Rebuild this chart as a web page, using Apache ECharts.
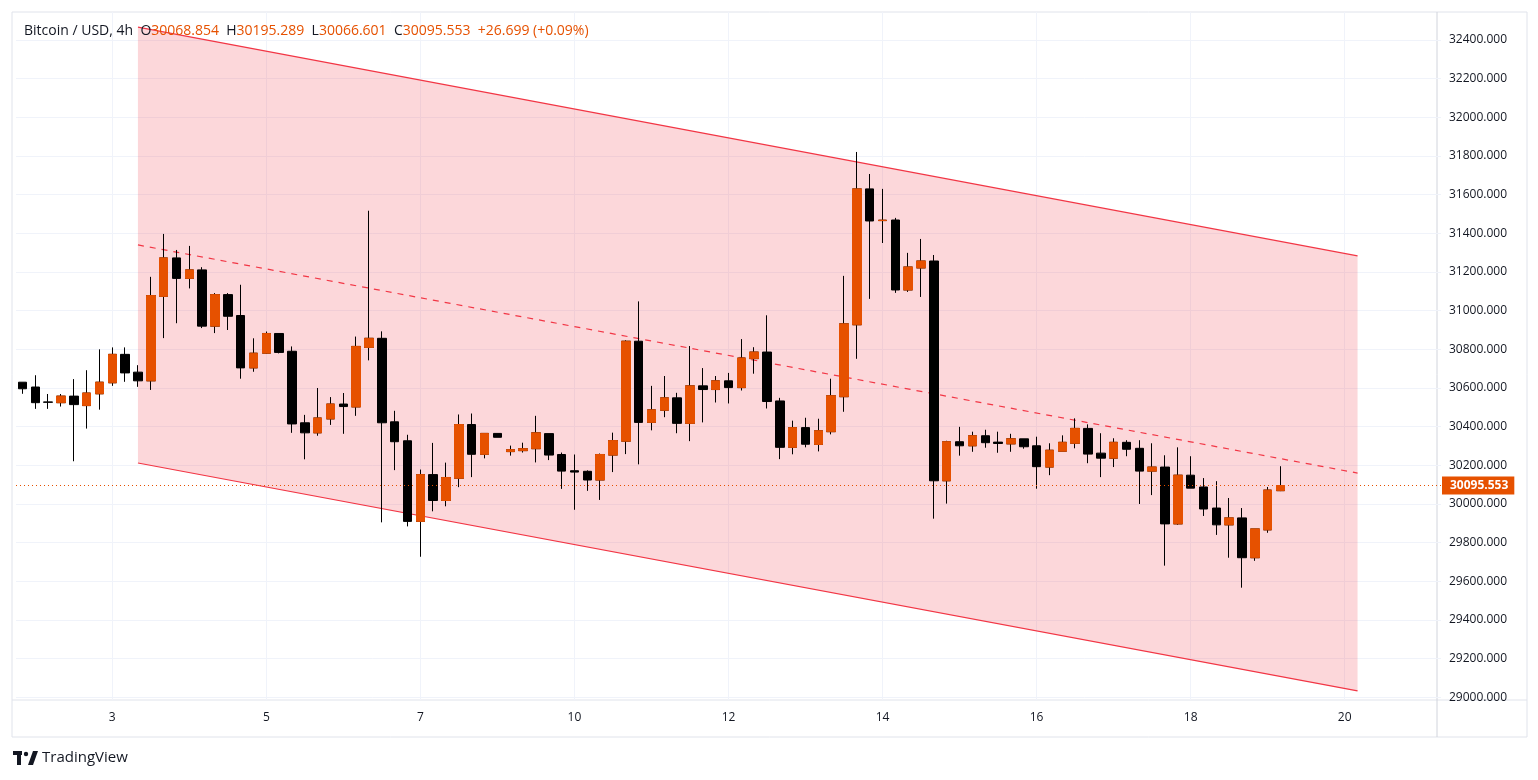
<!DOCTYPE html>
<html>
<head>
<meta charset="utf-8">
<script src="https://cdn.jsdelivr.net/npm/echarts@6/dist/echarts.min.js"></script>
<style>
  html, body { margin: 0; padding: 0; background: #fff; }
  #chart { width: 1538px; height: 780px; }
</style>
</head>
<body>
<div id="chart"></div>
<script>
// 4h candles
var opens  = [30630,30605,30528,30524,30558,30509,30570,30627,30774,30682,30637,31074,31273,31167,31211,30920,31083,30975,30704,30780,
              30882,30790,30420,30368,30440,30517,30502,30810,30857,30425,30327,29910,30152,30018,30133,30411,30257,30365,30271,30276,
              30286,30364,30256,30172,30169,30124,30253,30325,30842,30422,30485,30549,30417,30611,30592,30637,30602,30752,30786,30533,
              30293,30395,30308,30374,30555,30927,31630,31466,31469,31107,31221,31257,30120,30322,30301,30353,30320,30311,30337,30301,
              30191,30273,30314,30391,30263,30237,30319,30288,30170,30191,29897,30149,30088,29979,29892,29928,29722,29866,30068.854];
var closes = [30596,30524,30526,30558,30514,30574,30630,30774,30678,30637,31078,31273,31167,31211,30920,31083,30971,30704,30780,30882,
              30784,30414,30368,30445,30517,30504,30815,30857,30420,30322,29910,30152,30018,30137,30411,30257,30365,30345,30281,30286,
              30368,30253,30170,30165,30124,30256,30328,30842,30422,30487,30549,30417,30611,30592,30637,30602,30755,30786,30530,30293,
              30395,30309,30379,30560,30932,31630,31464,31468,31107,31226,31257,30120,30322,30301,30353,30317,30313,30337,30296,30193,
              30278,30319,30391,30258,30237,30319,30283,30170,30191,29897,30149,30082,29974,29892,29928,29722,29871,30072,30095.553];
var lows   = [30570,30492,30492,30504,30221,30390,30488,30611,30632,30606,30590,30858,30935,31115,30910,30884,30900,30648,30684,30776,
              30779,30368,30231,30353,30409,30363,30456,30743,29905,30175,29884,29727,29962,29988,30087,30139,30236,30345,30250,30266,
              30215,30227,30078,29970,30068,30021,30165,30258,30205,30381,30449,30366,30325,30422,30525,30520,30587,30674,30494,30232,
              30257,30293,30272,30360,30477,30751,31061,31350,31092,31097,31071,29924,30002,30250,30270,30291,30265,30270,30286,30079,
              30149,30273,30288,30211,30139,30191,30247,30000,30046,29681,29892,30082,29938,29840,29722,29567,29706,29851,30066.601];
var highs  = [30630,30666,30569,30569,30646,30692,30800,30810,30810,30718,31175,31397,31314,31335,31225,31091,31091,31134,30857,30892,
              30882,30815,30461,30600,30553,30574,30866,31517,30893,30482,30358,30178,30316,30214,30463,30468,30365,30365,30302,30317,
              30456,30364,30266,30256,30174,30261,30369,30847,31048,30611,30662,30575,30817,30703,30662,30678,30853,30811,30976,30549,
              30431,30446,30441,30648,31180,31821,31707,31630,31480,31299,31371,31288,30327,30399,30374,30384,30374,30363,30337,30348,
              30314,30355,30443,30412,30366,30340,30330,30330,30314,30252,30293,30247,30134,30118,30031,29979,29871,30088,30195.289];

var slotCount = 111;
var xLabels = { 7: '3', 19: '5', 31: '7', 43: '10', 55: '12', 67: '14', 79: '16', 91: '18', 103: '20' };
var yTicks = [29000,29200,29400,29600,29800,30000,30200,30400,30600,30800,31000,31200,31400,31600,31800,32000,32200,32400];
var lastPrice = 30095.553;

// regression channel: [slot, price] at both ends
var channelUpper = [[9, 32467], [104, 31283]];
var channelMid   = [[9, 31340], [104, 30160]];
var channelLower = [[9, 30212], [104, 29033]];

var UP = '#e65100', DOWN = '#000000', RED = '#f23645', GRID = '#f0f3fa';

var cats = [];
for (var i = 0; i < slotCount; i++) cats.push(xLabels[i] || '');

var allCandles = [], upBodies = [];
for (var i = 0; i < slotCount; i++) {
    if (i < opens.length) {
        allCandles.push([opens[i], closes[i], lows[i], highs[i]]);
        if (closes[i] >= opens[i]) {
            upBodies.push([opens[i], closes[i], opens[i], closes[i]]);
        } else {
            upBodies.push('-');
        }
    } else {
        allCandles.push('-');
        upBodies.push('-');
    }
}

var gridLines = yTicks.map(function (v) { return { yAxis: v }; });
Object.keys(xLabels).forEach(function (k) { gridLines.push({ xAxis: Number(k) }); });

var chart = echarts.init(document.getElementById('chart'));
var font = '"Open Sans", "DejaVu Sans", sans-serif';

chart.setOption({
    animation: false,
    backgroundColor: '#ffffff',
    grid: { left: 16, right: 97, top: 12, bottom: 80 },
    xAxis: {
        type: 'category',
        data: cats,
        boundaryGap: true,
        axisLine: { show: false },
        axisTick: { show: false },
        splitLine: { show: false },
        axisLabel: {
            interval: function (idx) { return !!xLabels[idx]; },
            color: '#131722', fontSize: 12, fontFamily: font, margin: 12
        }
    },
    yAxis: {
        type: 'value',
        position: 'right',
        min: 28986,
        max: 32545,
        scale: true,
        axisLine: { show: false },
        axisTick: { show: false },
        splitLine: { show: false },
        axisLabel: {
            customValues: yTicks,
            formatter: function (v) { return v.toFixed(3); },
            color: '#131722', fontSize: 12, fontFamily: font, margin: 8
        }
    },
    series: [
        {
            type: 'custom',
            silent: true,
            z: 1,
            data: [0],
            renderItem: function (params, api) {
                var u0 = api.coord(channelUpper[0]), u1 = api.coord(channelUpper[1]);
                var m0 = api.coord(channelMid[0]),   m1 = api.coord(channelMid[1]);
                var l0 = api.coord(channelLower[0]), l1 = api.coord(channelLower[1]);
                return {
                    type: 'group',
                    children: [
                        { type: 'polygon', shape: { points: [u0, u1, l1, l0] },
                          style: { fill: 'rgba(242,54,69,0.2)' } },
                        { type: 'line', shape: { x1: u0[0], y1: u0[1], x2: u1[0], y2: u1[1] },
                          style: { stroke: RED, lineWidth: 1.2 } },
                        { type: 'line', shape: { x1: l0[0], y1: l0[1], x2: l1[0], y2: l1[1] },
                          style: { stroke: RED, lineWidth: 1.2 } },
                        { type: 'line', shape: { x1: m0[0], y1: m0[1], x2: m1[0], y2: m1[1] },
                          style: { stroke: RED, lineWidth: 1.2, lineDash: [6, 6] } }
                    ]
                };
            }
        },
        {
            type: 'candlestick',
            data: allCandles,
            barWidth: 9,
            z: 3,
            itemStyle: { color: DOWN, color0: DOWN, borderColor: DOWN, borderColor0: DOWN, borderWidth: 1 },
            markLine: {
                silent: true,
                symbol: 'none',
                z: 0,
                label: { show: false },
                lineStyle: { color: GRID, type: 'solid', width: 1 },
                data: gridLines
            }
        },
        {
            type: 'candlestick',
            data: upBodies,
            barWidth: 9,
            z: 4,
            itemStyle: { color: UP, color0: UP, borderColor: UP, borderColor0: UP, borderWidth: 1 },
            markLine: {
                silent: true,
                symbol: 'none',
                data: [{ yAxis: lastPrice }],
                lineStyle: { color: UP, type: [1, 3], width: 1 },
                label: {
                    show: true, position: 'end', distance: 1,
                    formatter: lastPrice.toFixed(3),
                    color: '#fff', backgroundColor: UP, fontFamily: font, fontSize: 12,
                    fontWeight: 'bold', padding: [3, 6, 3, 8]
                }
            }
        }
    ],
    graphic: [
        { type: 'rect', shape: { x: 12, y: 12, width: 1515, height: 725 },
          style: { fill: 'none', stroke: '#e0e3eb', lineWidth: 1 }, silent: true },
        { type: 'line', shape: { x1: 12, y1: 700, x2: 1527, y2: 700 },
          style: { stroke: '#e0e3eb', lineWidth: 1 }, silent: true },
        { type: 'line', shape: { x1: 1437, y1: 12, x2: 1437, y2: 737 },
          style: { stroke: '#d1d4dc', lineWidth: 1 }, silent: true },
        {
            type: 'text', left: 24, top: 24, z: 10,
            style: {
                text: '{n|Bitcoin / USD, 4h  }{k|O}{v|30068.854  }{k|H}{v|30195.289  }{k|L}{v|30066.601  }{k|C}{v|30095.553  }{v|+26.699 (+0.09%)}',
                rich: {
                    n: { fill: '#131722', fontSize: 14, fontFamily: font },
                    k: { fill: '#131722', fontSize: 14, fontFamily: font },
                    v: { fill: UP, fontSize: 14, fontFamily: font }
                }
            }
        },
        { type: 'rect', shape: { x: 13, y: 751, width: 9, height: 4 }, style: { fill: '#131722' } },
        { type: 'rect', shape: { x: 17, y: 751, width: 4, height: 14 }, style: { fill: '#131722' } },
        { type: 'circle', shape: { cx: 26, cy: 754, r: 2.2 }, style: { fill: '#131722' } },
        { type: 'polygon', shape: { points: [[28, 765], [33, 751], [38, 751], [33, 765]] }, style: { fill: '#131722' } },
        { type: 'text', left: 42, top: 750,
          style: { text: 'TradingView', fill: '#131722', fontSize: 15, fontFamily: font, fontWeight: 500 } }
    ]
});
</script>
</body>
</html>
